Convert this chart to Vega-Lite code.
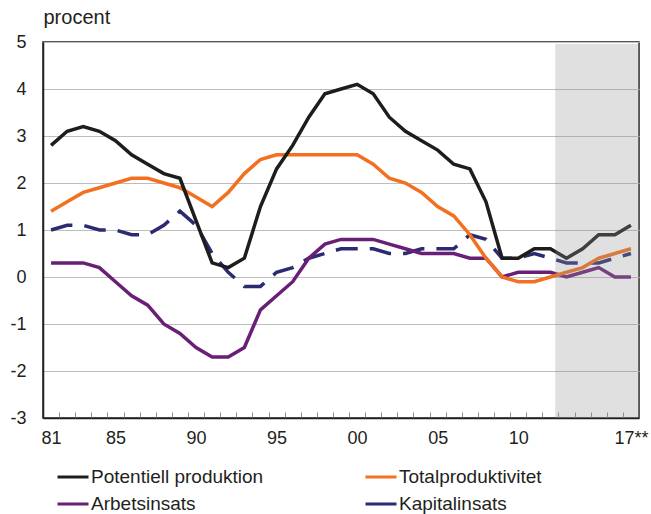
{
  "$schema": "https://vega.github.io/schema/vega-lite/v6.json",
  "width": 596,
  "height": 376,
  "autosize": "none",
  "padding": {"left": 43, "top": 42, "right": 12, "bottom": 96},
  "background": "white",
  "config": {
    "font": "Liberation Sans",
    "view": {"stroke": "#231f20", "strokeWidth": 1.5},
    "axis": {"labelColor": "#231f20", "labelFont": "Liberation Sans", "labelOverlap": false},
    "legend": {"labelFont": "Liberation Sans"}
  },
  "datasets": {
    "series": [
      {"year": 1981, "Potentiell produktion": 2.8, "Totalproduktivitet": 1.4, "Arbetsinsats": 0.3, "Kapitalinsats": 1.0},
      {"year": 1982, "Potentiell produktion": 3.1, "Totalproduktivitet": 1.6, "Arbetsinsats": 0.3, "Kapitalinsats": 1.1},
      {"year": 1983, "Potentiell produktion": 3.2, "Totalproduktivitet": 1.8, "Arbetsinsats": 0.3, "Kapitalinsats": 1.1},
      {"year": 1984, "Potentiell produktion": 3.1, "Totalproduktivitet": 1.9, "Arbetsinsats": 0.2, "Kapitalinsats": 1.0},
      {"year": 1985, "Potentiell produktion": 2.9, "Totalproduktivitet": 2.0, "Arbetsinsats": -0.1, "Kapitalinsats": 1.0},
      {"year": 1986, "Potentiell produktion": 2.6, "Totalproduktivitet": 2.1, "Arbetsinsats": -0.4, "Kapitalinsats": 0.9},
      {"year": 1987, "Potentiell produktion": 2.4, "Totalproduktivitet": 2.1, "Arbetsinsats": -0.6, "Kapitalinsats": 0.9},
      {"year": 1988, "Potentiell produktion": 2.2, "Totalproduktivitet": 2.0, "Arbetsinsats": -1.0, "Kapitalinsats": 1.1},
      {"year": 1989, "Potentiell produktion": 2.1, "Totalproduktivitet": 1.9, "Arbetsinsats": -1.2, "Kapitalinsats": 1.4},
      {"year": 1990, "Potentiell produktion": 1.2, "Totalproduktivitet": 1.7, "Arbetsinsats": -1.5, "Kapitalinsats": 1.1},
      {"year": 1991, "Potentiell produktion": 0.3, "Totalproduktivitet": 1.5, "Arbetsinsats": -1.7, "Kapitalinsats": 0.5},
      {"year": 1992, "Potentiell produktion": 0.2, "Totalproduktivitet": 1.8, "Arbetsinsats": -1.7, "Kapitalinsats": 0.1},
      {"year": 1993, "Potentiell produktion": 0.4, "Totalproduktivitet": 2.2, "Arbetsinsats": -1.5, "Kapitalinsats": -0.2},
      {"year": 1994, "Potentiell produktion": 1.5, "Totalproduktivitet": 2.5, "Arbetsinsats": -0.7, "Kapitalinsats": -0.2},
      {"year": 1995, "Potentiell produktion": 2.3, "Totalproduktivitet": 2.6, "Arbetsinsats": -0.4, "Kapitalinsats": 0.1},
      {"year": 1996, "Potentiell produktion": 2.8, "Totalproduktivitet": 2.6, "Arbetsinsats": -0.1, "Kapitalinsats": 0.2},
      {"year": 1997, "Potentiell produktion": 3.4, "Totalproduktivitet": 2.6, "Arbetsinsats": 0.4, "Kapitalinsats": 0.4},
      {"year": 1998, "Potentiell produktion": 3.9, "Totalproduktivitet": 2.6, "Arbetsinsats": 0.7, "Kapitalinsats": 0.5},
      {"year": 1999, "Potentiell produktion": 4.0, "Totalproduktivitet": 2.6, "Arbetsinsats": 0.8, "Kapitalinsats": 0.6},
      {"year": 2000, "Potentiell produktion": 4.1, "Totalproduktivitet": 2.6, "Arbetsinsats": 0.8, "Kapitalinsats": 0.6},
      {"year": 2001, "Potentiell produktion": 3.9, "Totalproduktivitet": 2.4, "Arbetsinsats": 0.8, "Kapitalinsats": 0.6},
      {"year": 2002, "Potentiell produktion": 3.4, "Totalproduktivitet": 2.1, "Arbetsinsats": 0.7, "Kapitalinsats": 0.5},
      {"year": 2003, "Potentiell produktion": 3.1, "Totalproduktivitet": 2.0, "Arbetsinsats": 0.6, "Kapitalinsats": 0.5},
      {"year": 2004, "Potentiell produktion": 2.9, "Totalproduktivitet": 1.8, "Arbetsinsats": 0.5, "Kapitalinsats": 0.6},
      {"year": 2005, "Potentiell produktion": 2.7, "Totalproduktivitet": 1.5, "Arbetsinsats": 0.5, "Kapitalinsats": 0.6},
      {"year": 2006, "Potentiell produktion": 2.4, "Totalproduktivitet": 1.3, "Arbetsinsats": 0.5, "Kapitalinsats": 0.6},
      {"year": 2007, "Potentiell produktion": 2.3, "Totalproduktivitet": 0.9, "Arbetsinsats": 0.4, "Kapitalinsats": 0.9},
      {"year": 2008, "Potentiell produktion": 1.6, "Totalproduktivitet": 0.4, "Arbetsinsats": 0.4, "Kapitalinsats": 0.8},
      {"year": 2009, "Potentiell produktion": 0.4, "Totalproduktivitet": 0.0, "Arbetsinsats": 0.0, "Kapitalinsats": 0.4},
      {"year": 2010, "Potentiell produktion": 0.4, "Totalproduktivitet": -0.1, "Arbetsinsats": 0.1, "Kapitalinsats": 0.4},
      {"year": 2011, "Potentiell produktion": 0.6, "Totalproduktivitet": -0.1, "Arbetsinsats": 0.1, "Kapitalinsats": 0.5},
      {"year": 2012, "Potentiell produktion": 0.6, "Totalproduktivitet": 0.0, "Arbetsinsats": 0.1, "Kapitalinsats": 0.4},
      {"year": 2013, "Potentiell produktion": 0.4, "Totalproduktivitet": 0.1, "Arbetsinsats": 0.0, "Kapitalinsats": 0.3},
      {"year": 2014, "Potentiell produktion": 0.6, "Totalproduktivitet": 0.2, "Arbetsinsats": 0.1, "Kapitalinsats": 0.3},
      {"year": 2015, "Potentiell produktion": 0.9, "Totalproduktivitet": 0.4, "Arbetsinsats": 0.2, "Kapitalinsats": 0.3},
      {"year": 2016, "Potentiell produktion": 0.9, "Totalproduktivitet": 0.5, "Arbetsinsats": 0.0, "Kapitalinsats": 0.4},
      {"year": 2017, "Potentiell produktion": 1.1, "Totalproduktivitet": 0.6, "Arbetsinsats": 0.0, "Kapitalinsats": 0.5}
    ],
    "shade": [{"year": 2012.3, "year2": 2017.5, "value": -3, "value2": 4.96}]
  },
  "encoding": {
    "x": {
      "field": "year",
      "type": "quantitative",
      "scale": {"domain": [1980.5, 2017.5], "nice": false, "zero": false},
      "axis": {
        "title": null,
        "values": [1981, 1981.5, 1982.5, 1983.5, 1984.5, 1985, 1985.5, 1986.5, 1987.5, 1988.5, 1989.5, 1990, 1990.5, 1991.5, 1992.5, 1993.5, 1994.5, 1995, 1995.5, 1996.5, 1997.5, 1998.5, 1999.5, 2000, 2000.5, 2001.5, 2002.5, 2003.5, 2004.5, 2005, 2005.5, 2006.5, 2007.5, 2008.5, 2009.5, 2010, 2010.5, 2011.5, 2012.5, 2013.5, 2014.5, 2015.5, 2016.5, 2017],
        "labelExpr": "datum.value == 1981 ? '81' : datum.value == 1985 ? '85' : datum.value == 1990 ? '90' : datum.value == 1995 ? '95' : datum.value == 2000 ? '00' : datum.value == 2005 ? '05' : datum.value == 2010 ? '10' : datum.value == 2017 ? '17**' : ''",
        "labelFlush": false,
        "labelOverlap": false,
        "labelFontSize": 18,
        "labelPadding": 17,
        "tickSize": -6,
        "tickColor": "#8c8c8c",
        "tickWidth": 1,
        "tickOpacity": {"condition": {"test": "datum.value % 1 == 0", "value": 0}, "value": 1},
        "domainColor": "#231f20",
        "domainWidth": 1.5,
        "grid": false
      }
    },
    "y": {
      "field": "value",
      "type": "quantitative",
      "scale": {"domain": [-3, 5], "nice": false, "zero": false},
      "axis": {
        "values": [-3, -2, -1, 0, 1, 2, 3, 4, 5],
        "labelExpr": "'' + datum.value",
        "title": "procent",
        "titleAngle": 0,
        "titleAlign": "left",
        "titleBaseline": "alphabetic",
        "titleX": 0,
        "titleY": -19,
        "titleFontSize": 20,
        "titleFontWeight": "normal",
        "titleColor": "#231f20",
        "titleFont": "Liberation Sans",
        "labelFontSize": 18,
        "labelPadding": 17,
        "ticks": false,
        "grid": true,
        "gridColor": "#bdbdbd",
        "gridWidth": 1,
        "domainColor": "#231f20",
        "domainWidth": 1.5
      }
    },
    "color": {
      "field": "serie",
      "type": "nominal",
      "scale": {
        "domain": ["Potentiell produktion", "Totalproduktivitet", "Arbetsinsats", "Kapitalinsats"],
        "range": ["#1d1d1b", "#f37021", "#6a1f77", "#2b2b72"]
      },
      "legend": {
        "title": null,
        "orient": "none",
        "legendX": 13,
        "legendY": 418,
        "columns": 2,
        "direction": "horizontal",
        "columnPadding": 95,
        "rowPadding": -7,
        "symbolType": "stroke",
        "symbolSize": 961,
        "symbolStrokeWidth": 3,
        "labelOffset": 1,
        "labelFontSize": 19,
        "labelColor": "#231f20",
        "labelLimit": 300
      }
    }
  },
  "layer": [
    {
      "data": {"name": "series"},
      "transform": [
        {"fold": ["Kapitalinsats"], "as": ["serie", "value"]}
      ],
      "mark": {"type": "line", "strokeJoin": "miter", "strokeWidth": 3.5, "strokeDash": [22, 12]}
    },
    {
      "data": {"name": "series"},
      "transform": [
        {"fold": ["Arbetsinsats", "Totalproduktivitet", "Potentiell produktion"], "as": ["serie", "value"]}
      ],
      "mark": {"type": "line", "strokeJoin": "miter"},
      "encoding": {
        "strokeWidth": {
          "field": "serie",
          "type": "nominal",
          "scale": {
            "domain": ["Potentiell produktion", "Totalproduktivitet", "Arbetsinsats"],
            "range": [3.5, 3.5, 1.8]
          },
          "legend": null
        }
      }
    },
    {
      "data": {"name": "shade"},
      "mark": {"type": "rect", "color": "#949494", "opacity": 0.29},
      "encoding": {
        "color": {"value": "#949494"},
        "x2": {"field": "year2"},
        "y2": {"field": "value2"}
      }
    }
  ]
}
